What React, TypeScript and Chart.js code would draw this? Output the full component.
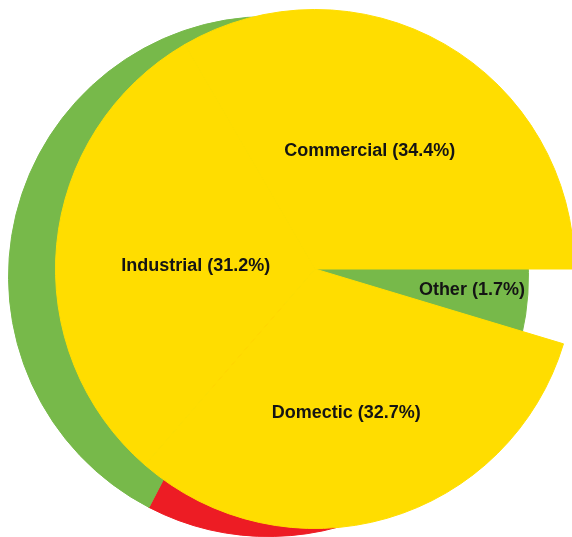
import React, { useEffect, useRef } from 'react';
import { Chart, registerables } from 'chart.js';

Chart.register(...registerables);

// Front (yellow) pie: categories and their label percentages
const categories = ['Commercial', 'Other', 'Domectic', 'Industrial'];
const labelPercents = [34.4, 1.7, 32.7, 31.2];
// Angular shares as drawn in the picture (the "Other" gap is drawn wider than 1.7%)
const drawnShares = [34.4, 4.8, 32.7, 31.2];
const frontColors = ['#FFDD00', 'rgba(0,0,0,0)', '#FFDD00', '#FFDD00'];

// Back (shadow) pie: green with a red sector
const backParts = ['Green A', 'Red', 'Green B'];
const backShares = [41.7, 15.9, 42.4];
const backColors = ['#77B94A', '#ED1C24', '#77B94A'];

// label placement (layout only): radius fraction and angle tweak (deg) per slice
const labelRadiusFrac = [0.5, 0.61, 0.567, 0.46];
const labelAngleAdjust = [-5, -0.75, 3.9, -4];

const labelPlugin = {
  id: 'sliceLabels',
  afterDatasetsDraw(chart: any) {
    const meta = chart.getDatasetMeta(0);
    const ctx = chart.ctx;
    ctx.save();
    ctx.font = 'bold 18px "Liberation Sans", Arial, sans-serif';
    ctx.fillStyle = '#141414';
    ctx.textAlign = 'center';
    ctx.textBaseline = 'middle';
    meta.data.forEach((arc: any, i: number) => {
      const p = arc.getProps(['x', 'y', 'startAngle', 'endAngle', 'outerRadius'], true);
      const mid = (p.startAngle + p.endAngle) / 2 + (labelAngleAdjust[i] * Math.PI) / 180;
      const r = p.outerRadius * labelRadiusFrac[i];
      const x = p.x + Math.cos(mid) * r;
      const y = p.y + Math.sin(mid) * r;
      ctx.fillText(`${categories[i]} (${labelPercents[i]}%)`, x, y);
    });
    ctx.restore();
  },
};

export default function App() {
  const backRef = useRef<HTMLCanvasElement>(null);
  const frontRef = useRef<HTMLCanvasElement>(null);

  useEffect(() => {
    const total = drawnShares.reduce((a, b) => a + b, 0);
    const frontRotation = 90 - (360 * drawnShares[0]) / total;

    const back = new Chart(backRef.current!, {
      type: 'pie',
      data: {
        labels: backParts,
        datasets: [
          {
            data: backShares,
            backgroundColor: backColors,
            borderColor: backColors,
            borderWidth: 1,
          },
        ],
      },
      options: {
        responsive: false,
        animation: false,
        events: [],
        radius: 260,
        layout: { padding: { left: 0, right: 35, top: 16, bottom: 0 } },
        plugins: { legend: { display: false }, tooltip: { enabled: false } },
      } as any,
    });

    const front = new Chart(frontRef.current!, {
      type: 'pie',
      data: {
        labels: categories,
        datasets: [
          {
            data: drawnShares,
            backgroundColor: frontColors,
            borderColor: frontColors,
            borderWidth: 1,
          },
        ],
      },
      options: {
        responsive: false,
        animation: false,
        events: [],
        rotation: frontRotation,
        radius: 259.5,
        layout: { padding: { left: 58, right: 0, top: 1, bottom: 0 } },
        plugins: { legend: { display: false }, tooltip: { enabled: false } },
      } as any,
      plugins: [labelPlugin],
    });

    return () => {
      back.destroy();
      front.destroy();
    };
  }, []);

  return (
    <div
      style={{
        position: 'absolute',
        left: 0,
        top: 0,
        width: 572,
        height: 537,
        overflow: 'hidden',
        background: '#fff',
      }}
    >
      <canvas ref={backRef} width={572} height={537} style={{ position: 'absolute', left: 0, top: 0 }} />
      <canvas ref={frontRef} width={572} height={537} style={{ position: 'absolute', left: 0, top: 0 }} />
    </div>
  );
}
